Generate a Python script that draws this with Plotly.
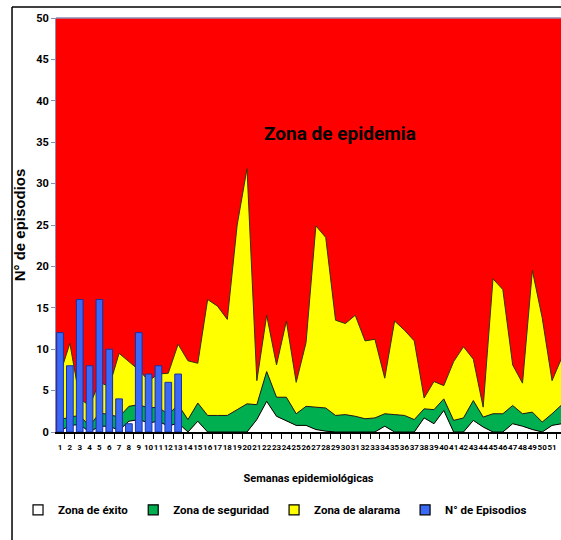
import plotly.graph_objects as go

semanas = ["1", "2", "3", "4", "5", "6", "7", "8", "9", "10", "11", "12", "13",
           "14", "15", "16", "17", "18", "19", "20", "21", "22", "23", "24", "25", "26",
           "27", "28", "29", "30", "31", "32", "33", "34", "35", "36", "37", "38", "39",
           "40", "41", "42", "43", "44", "45", "46", "47", "48", "49", "50", "51", "52"]

# N° de episodios (solo semanas 1-13)
episodios = [12, 8, 16, 8, 16, 10, 4, 1, 12, 7, 8, 6, 7] + [None] * 39

# limites superiores de cada zona
zona_exito = [0.1, 0.8, 0.9, 0, 0.7, 0.7, 0.2, 1.3, 1.5, 1.1, 1.3, 0.7, 1.1,
              0, 1.3, 0, 0, 0, 0, 0, 1.5, 3.7, 1.9, 1.3, 0.8, 0.8,
              0.3, 0.1, 0, 0, 0, 0, 0, 0.7, 0, 0, 0, 1.7, 1.0,
              2.6, 0, 0, 1.4, 0.6, 0, 0, 1.0, 0.7, 0.3, 0, 0.8, 1.0]
zona_seguridad = [1.5, 1.8, 2.0, 0.7, 2.3, 2.1, 1.8, 3.1, 3.3, 2.9, 3.0, 2.1, 3.3,
                  1.5, 3.5, 2.0, 2.0, 2.0, 2.7, 3.4, 3.3, 7.3, 4.2, 4.2, 2.2, 3.1,
                  3.0, 2.9, 2.0, 2.1, 1.9, 1.6, 1.7, 2.2, 2.1, 2.0, 1.5, 2.8, 2.7,
                  4.0, 1.4, 1.7, 3.8, 1.8, 2.2, 2.2, 3.2, 2.2, 2.4, 1.2, 2.2, 3.3]
zona_alarma = [7.0, 10.7, 4.0, 3.2, 6.0, 5.5, 9.5, 8.5, 7.5, 6.2, 7.0, 7.1, 10.6,
               8.6, 8.3, 16.0, 15.2, 13.6, 25.0, 31.8, 6.2, 14.1, 8.1, 13.4, 6.0, 10.8,
               24.9, 23.5, 13.5, 13.1, 14.1, 11.0, 11.2, 6.5, 13.4, 12.3, 11.0, 4.1, 6.1,
               5.6, 8.5, 10.3, 8.8, 3.0, 18.5, 17.2, 8.1, 5.9, 19.5, 13.8, 6.2, 9.0]

fuente = "Roboto, Liberation Sans, sans-serif"

fig = go.Figure()
fig.add_trace(go.Scatter(x=semanas, y=zona_exito, mode="lines", fill="tozeroy",
                         fillcolor="white", line=dict(color="black", width=1),
                         showlegend=False))
fig.add_trace(go.Scatter(x=semanas, y=zona_seguridad, mode="lines", fill="tonexty",
                         fillcolor="#00B050", line=dict(color="#1a1a1a", width=1),
                         showlegend=False))
fig.add_trace(go.Scatter(x=semanas, y=zona_alarma, mode="lines", fill="tonexty",
                         fillcolor="#FFFF00", line=dict(color="#333300", width=1),
                         showlegend=False))
fig.add_trace(go.Bar(x=semanas, y=episodios, yaxis="y2", width=0.68,
                     marker=dict(color="#3A6AF5", line=dict(color="#1A2FA0", width=1)),
                     showlegend=False))

# entradas de leyenda
leyenda = [("Zona de éxito", "white"), ("Zona de seguridad", "#00B050"),
           ("Zona de alarama", "#FFFF00"), ("N° de Episodios", "#3A6AF5")]
for nombre, color in leyenda:
    fig.add_trace(go.Scatter(x=[None], y=[None], mode="markers", name=nombre,
                             marker=dict(symbol="square", size=10, color=color,
                                         line=dict(color="black", width=1.2))))

fig.update_layout(
    width=561, height=540,
    margin=dict(l=56, r=0, t=18, b=108, autoexpand=False),
    plot_bgcolor="#FF0000", paper_bgcolor="white",
    font=dict(family=fuente, color="black"),
    legend=dict(orientation="h", x=-0.0752, y=-0.188, yanchor="middle",
                traceorder="normal",
                font=dict(family=fuente, size=11.5, color="black", weight="bold"),
                itemwidth=30),
    annotations=[dict(x=28.5, y=36, xref="x", yref="y", text="Zona de epidemia",
                      showarrow=False,
                      font=dict(family=fuente, size=19, color="black", weight="bold"))],
    shapes=[
        dict(type="line", xref="paper", yref="paper", x0=-0.0871, x1=-0.0871, y0=-0.27, y1=1.0266,
             line=dict(color="black", width=1.5)),
        dict(type="line", xref="paper", yref="paper", x0=-0.0871, x1=1.01, y0=1.0266, y1=1.0266,
             line=dict(color="black", width=1.5)),
        dict(type="line", xref="paper", yref="paper", x0=0, x1=1, y0=1, y1=1,
             line=dict(color="#8C8CB4", width=1.5)),
    ],
)

fig.update_xaxes(type="category", range=[-0.41, 50.91], tickson="boundaries",
                 tickmode="linear", dtick=1, automargin=False,
                 ticks="outside", ticklen=5, tickcolor="black", showline=True,
                 linecolor="black", linewidth=2, showgrid=False, ticklabelstandoff=6,
                 tickfont=dict(family=fuente, size=8, color="black", weight="bold"),
                 tickangle=0,
                 title=dict(text="Semanas epidemiológicas", standoff=24,
                            font=dict(family=fuente, size=11, color="black", weight="bold")))
fig.update_yaxes(range=[0, 50], dtick=5, ticks="outside", ticklen=4, automargin=False,
                 tickcolor="#8C8CB4", showline=True, linecolor="#8C8CB4", linewidth=1,
                 showgrid=False, zeroline=False,
                 tickfont=dict(family=fuente, size=11, color="black", weight="bold"),
                 title=dict(text="N° de episodios", standoff=6,
                            font=dict(family="Liberation Sans, Arial, sans-serif", size=15,
                                      color="black", weight="bold")))
fig.update_layout(yaxis2=dict(overlaying="y", range=[0, 50], visible=False))

# sin margen de pagina para que la figura ocupe toda la ventana
fig.write_html("out.html", config={"displayModeBar": False},
               post_script="document.body.style.margin='0';document.body.style.overflow='hidden';")
